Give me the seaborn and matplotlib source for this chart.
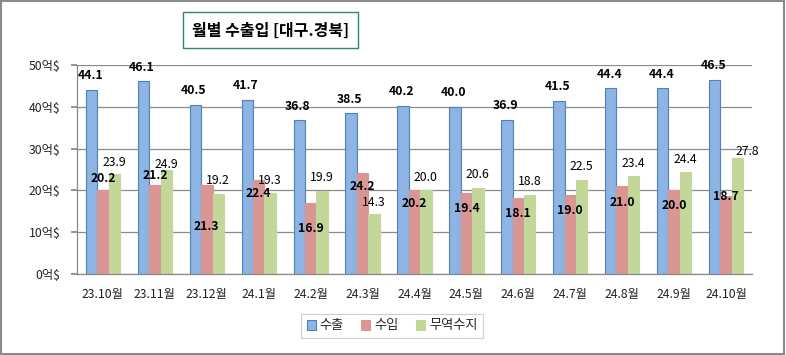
import matplotlib
matplotlib.use("Agg")
import matplotlib.pyplot as plt
import seaborn as sns
import pandas as pd
import numpy as np
from matplotlib.patches import Rectangle

months = ["23.10월", "23.11월", "23.12월", "24.1월", "24.2월", "24.3월", "24.4월",
          "24.5월", "24.6월", "24.7월", "24.8월", "24.9월", "24.10월"]
export = [44.1, 46.1, 40.5, 41.7, 36.8, 38.5, 40.2, 40.0, 36.9, 41.5, 44.4, 44.4, 46.5]
imports = [20.2, 21.2, 21.3, 22.4, 16.9, 24.2, 20.2, 19.4, 18.1, 19.0, 21.0, 20.0, 18.7]
balance = [23.9, 24.9, 19.2, 19.3, 19.9, 14.3, 20.0, 20.6, 18.8, 22.5, 23.4, 24.4, 27.8]
series = ["수출", "수입", "무역수지"]
yticks = [0, 10, 20, 30, 40, 50]

# label placement nudges (pixels, positive = downward) – styling only
red_dy_px = [-10.6, -9.4, 42, 13.6, 25, 14, 14, 16, 15, 16, 16, 15, 1]
green_dy_px = [-12, -5, -13, -12.6, -13, -12, -13, -13, -14, -13.3, -13, -13, -6]
green_dx_px = [0, 0, 0, 0, 0, 0, 0, 0, 0, 0, 0, 0, 10]

df = pd.DataFrame({
    "month": months * 3,
    "value": export + imports + balance,
    "series": [series[0]] * 13 + [series[1]] * 13 + [series[2]] * 13,
})

sns.set_theme(style="white")
plt.rcParams["font.family"] = ["Noto Sans CJK KR", "DejaVu Sans"]

fills = ["#8DB4E2", "#DA9694", "#C4D79B"]
edges = ["#4F81BD", "#DA9694", "#C4D79B"]

fig = plt.figure(figsize=(7.86, 3.55), dpi=100)
ax = fig.add_axes([77 / 786, 81 / 355, (752 - 77) / 786, (274 - 65) / 355])

sns.barplot(data=df, x="month", y="value", hue="series", order=months,
            hue_order=series, palette=fills, width=0.66, gap=0, ax=ax,
            legend=False, saturation=1)

for i, cont in enumerate(ax.containers):
    for p in cont:
        p.set_edgecolor(edges[i])
        p.set_linewidth(0.8)

px2pt = 72 / 100
lab_fs = 8.8
for j, cont in enumerate(ax.containers):
    for k, p in enumerate(cont):
        xc = p.get_x() + p.get_width() / 2
        h = p.get_height()
        if j == 0:
            ax.annotate(f"{h:.1f}", (xc, h), xytext=(-1, 14 * px2pt), textcoords="offset points",
                        ha="center", va="center", fontsize=lab_fs, fontweight="bold", color="black")
        elif j == 1:
            ax.annotate(f"{h:.1f}", (xc, h), xytext=(0, -red_dy_px[k] * px2pt), textcoords="offset points",
                        ha="center", va="center", fontsize=lab_fs, fontweight="bold", color="black")
        else:
            ax.annotate(f"{h:.1f}", (xc, h), xytext=(green_dx_px[k] * px2pt, -green_dy_px[k] * px2pt),
                        textcoords="offset points",
                        ha="center", va="center", fontsize=lab_fs, color="black")

ax.set_ylim(0, 50)
ax.set_xlim(-0.5, 12.5)
ax.set_yticks(yticks)
ax.set_yticklabels([f"{v}억$" for v in yticks], fontsize=8.8, color="#222222")
ax.set_xticks(range(len(months)))
ax.set_xticklabels(months, fontsize=8.8, color="#222222")
ax.set_xticks(np.arange(-0.5, 13, 1), minor=True)
ax.tick_params(axis="x", which="major", length=0, pad=10)
ax.tick_params(axis="x", which="minor", length=4, color="#888888", direction="out")
ax.tick_params(axis="y", length=4, color="#888888", pad=8, left=True)
ax.set_xlabel("")
ax.set_ylabel("")
ax.yaxis.grid(True, color="#8C8C8C", linewidth=0.9)
ax.set_axisbelow(True)
for s in ["top", "right"]:
    ax.spines[s].set_visible(False)
for s in ["left", "bottom"]:
    ax.spines[s].set_color("#888888")
    ax.spines[s].set_linewidth(0.9)

# legend
handles = [Rectangle((0, 0), 1, 1, facecolor=fills[i], edgecolor=edges[i], linewidth=0.8) for i in range(3)]
leg = fig.legend(handles, series, loc="center", bbox_to_anchor=(392 / 786, 1 - 326 / 355), ncol=3,
                 fontsize=9.5, handlelength=0.7, handleheight=0.7, handletextpad=0.3,
                 columnspacing=1.3, frameon=True, fancybox=False, borderpad=0.4)
leg.get_frame().set_edgecolor("#B8C4D8")
leg.get_frame().set_linewidth(0.8)

# title with box
fig.patches.append(Rectangle((183 / 786, 1 - 48 / 355), (358 - 183) / 786, 36 / 355,
                             transform=fig.transFigure, facecolor="white",
                             edgecolor="#2E8B57", linewidth=1.0))
fig.text(270.5 / 786, 1 - 30.5 / 355, "월별 수출입 [대구.경북]", ha="center", va="center",
         fontsize=11.5, fontweight="bold", color="black")

# outer border
fig.patches.append(Rectangle((0.001, 0.002), 0.996, 0.994, transform=fig.transFigure, fill=False,
                             edgecolor="#8A8A8A", linewidth=1.5))

fig.savefig("out.png", dpi=100)
